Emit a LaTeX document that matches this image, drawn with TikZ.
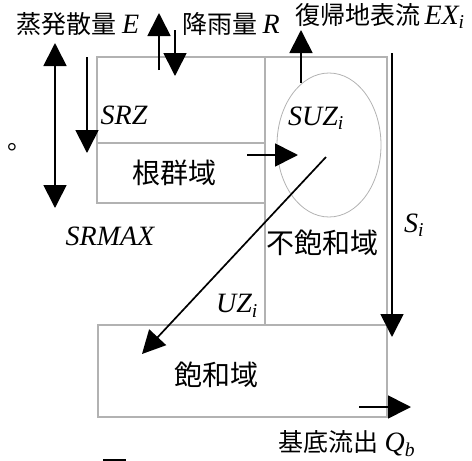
\documentclass[tikz,border=0pt]{standalone}
\usepackage{fontspec}
\setmainfont{Noto Sans CJK JP}
\newfontfamily\tms{Liberation Serif}
\usetikzlibrary{arrows.meta,positioning,shapes.geometric}

\newcommand{\qty}[1]{{\fontsize{28}{30}\tms\itshape #1}}
\newcommand{\qsub}[2]{{\fontsize{28}{30}\tms\itshape #1\textsubscript{#2}}}

\begin{document}
\begin{tikzpicture}[x=1pt,y=-1pt,
  font=\fontsize{25}{28}\selectfont,
  zone/.style={draw=black!30,line width=1.3pt,inner sep=0pt},
  lbl/.style={inner sep=1pt},
  big/.style={font=\fontsize{28}{30}\selectfont},
  flow/.style={->,line width=1.7pt},
  >={Triangle[length=23pt,width=23pt]}]
\useasboundingbox (0,0) rectangle (472,461);
% zones
\node[zone,minimum width=168pt,minimum height=86pt] (srz) at (181,100) {};
\node[zone,minimum width=168pt,minimum height=60pt] (root) at (181,173) {};
\node[zone,minimum width=122pt,minimum height=268pt] (unsat) at (326,191) {};
\node[zone,minimum width=289pt,minimum height=92pt] (sat) at (242.5,371) {};
\node[draw=black!30,line width=0.8pt,ellipse,minimum width=104pt,minimum height=144pt] (suz) at (329,145) {};
% texts
\node[lbl,big] (rootlbl) at (174,173) {根群域};
\node[lbl,big] (unsatlbl) at (322,243) {不飽和域};
\node[lbl,big] (satlbl) at (216,375) {飽和域};
\node[lbl] (suzlbl) at (316,118) {\qsub{SUZ}{i}};
\node[lbl] (srzlbl) at (124,115) {\qty{SRZ}};
\node[lbl] (srmaxlbl) at (110,236) {\qty{SRMAX}};
\node[lbl] (uzlbl) at (237,306) {\qsub{UZ}{i}};
\node[lbl] (silbl) at (414,225) {\qsub{S}{i}};
\node[lbl] (etlbl) at (78,24) {蒸発散量 \qty{E}};
\node[lbl] (rainlbl) at (231,24) {降雨量 \qty{R}};
\node[lbl] (exlbl) at (380,16) {復帰地表流\,\qsub{EX}{i}};
\node[lbl] (qblbl) at (347,444) {基底流出 \qsub{Q}{b}};
\node[lbl] (dot) at (20,147) {。};
% arrow ends
\coordinate (e0) at (159,70);   \coordinate (e1) at (159,13);
\coordinate (r0) at (175,30);   \coordinate (r1) at (175,76);
\coordinate (ex0) at (301,83);  \coordinate (ex1) at (301,30);
\coordinate (si0) at (392,53);  \coordinate (si1) at (392,337);
\coordinate (z0) at (87,57);    \coordinate (z1) at (87,153);
\coordinate (m0) at (55,43);    \coordinate (m1) at (55,208);
\coordinate (p0) at (247,155);  \coordinate (p1) at (298,155);
\coordinate (d0) at (326,157);  \coordinate (d1) at (142,354);
\coordinate (q0) at (359,407);  \coordinate (q1) at (411,407);
\coordinate (bar0) at (103,460); \coordinate (bar1) at (126,460);
% flows
\draw[flow] (e0) -- (e1);
\draw[flow] (r0) -- (r1);
\draw[flow] (ex0) -- (ex1);
\draw[flow] (si0) -- (si1);
\draw[flow] (z0) -- (z1);
\draw[flow,<->] (m0) -- (m1);
\draw[flow] (p0) -- (p1);
\draw[flow] (d0) -- (d1);
\draw[flow] (q0) -- (q1);
\draw[line width=1.2pt] (bar0) -- (bar1);
\end{tikzpicture}
\end{document}
